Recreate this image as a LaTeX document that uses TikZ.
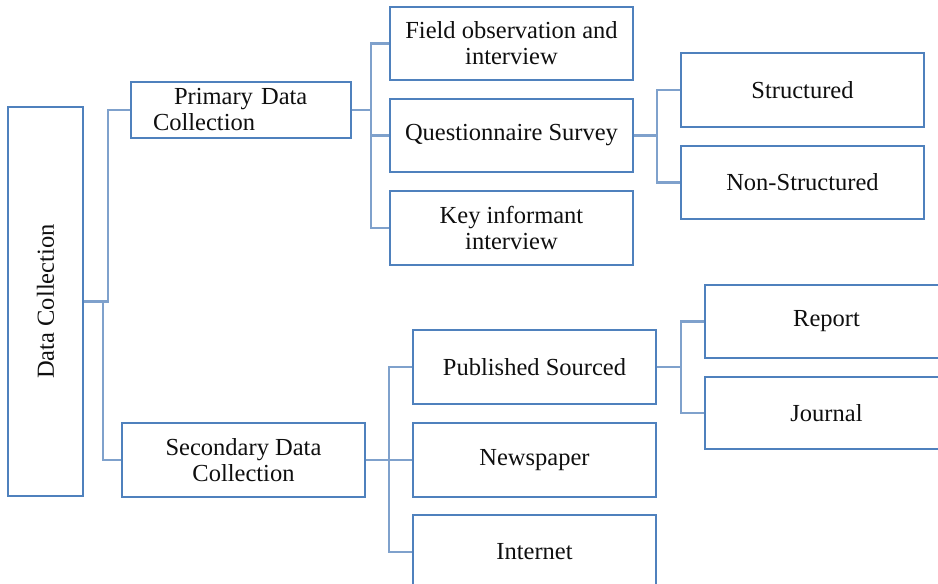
\documentclass[tikz,border=0pt]{standalone}
\usepackage{fontspec}
\setmainfont{Liberation Serif}
\definecolor{boxblue}{RGB}{79,129,189}
\definecolor{linkblue}{RGB}{127,161,204}
\definecolor{inkdark}{RGB}{15,15,15}
\begin{document}
\begin{tikzpicture}[x=1pt,y=-1pt,
  box/.style={draw=boxblue, line width=1.2pt, rectangle, inner sep=0pt,
    minimum width=243pt, minimum height=74pt, align=center, text=inkdark,
    font=\fontsize{24.5}{26}\selectfont},
  link/.style={draw=linkblue, line width=2.2pt}]
\useasboundingbox (0,0) rectangle (938,584);
\clip (0,0) rectangle (938,584);

% root
\node[box, minimum width=75pt, minimum height=389pt] (dc) at (45.5,301.5) {};
\node[rotate=90, text=inkdark, font=\fontsize{24.5}{26}\selectfont] (dclabel) at (45.5,301.5) {Data Collection};

% first level
\node[box, minimum width=220pt, minimum height=56pt, text width=176pt,
      inner xsep=22pt, align=left] (prim) at (241,110) {\hspace*{21pt}Primary~Data\\Collection};
\node[box] (sec) at (243.5,460) {Secondary Data\\Collection};

% primary branch
\node[box, minimum height=73pt] (field) at (511.5,43.5) {Field observation and\\interview};
\node[box, minimum height=73pt] (quest) at (511.5,135.5) {Questionnaire Survey};
\node[box] (key) at (511.5,228) {Key informant\\interview};
\node[box] (struct) at (802.5,90) {Structured};
\node[box, minimum height=73pt] (nonstruct) at (802.5,182.5) {Non-Structured};

% secondary branch
\node[box] (pub) at (534.5,367) {Published Sourced};
\node[box] (news) at (534.5,460) {Newspaper};
\node[box] (inet) at (534.5,552) {Internet};
\node[box, minimum height=73pt] (report) at (826.5,321.5) {Report};
\node[box, minimum height=72pt] (journal) at (826.5,413) {Journal};

% junction points
\coordinate (pj) at (371,110);
\coordinate (qj) at (657,135.5);
\coordinate (sj) at (389,460);
\coordinate (bj) at (681,367);

% connectors
\draw[link] (dc.east) -- ++(24,0) |- (prim.west);
\draw[link] (dc.east) -- ++(19,0) |- (sec.west);

\draw[link] (prim.east) -- (pj);
\draw[link] (field.west) -| (pj) |- (key.west);
\draw[link] (quest.west) -- (quest.west -| pj);

\draw[link] (quest.east) -- (qj);
\draw[link] (struct.west) -| (qj) |- (nonstruct.west);

\draw[link] (sec.east) -- (sj);
\draw[link] (pub.west) -| (sj) |- (inet.west);
\draw[link] (news.west) -- (sj);

\draw[link] (pub.east) -- (bj);
\draw[link] (report.west) -| (bj) |- (journal.west);
\end{tikzpicture}
\end{document}
